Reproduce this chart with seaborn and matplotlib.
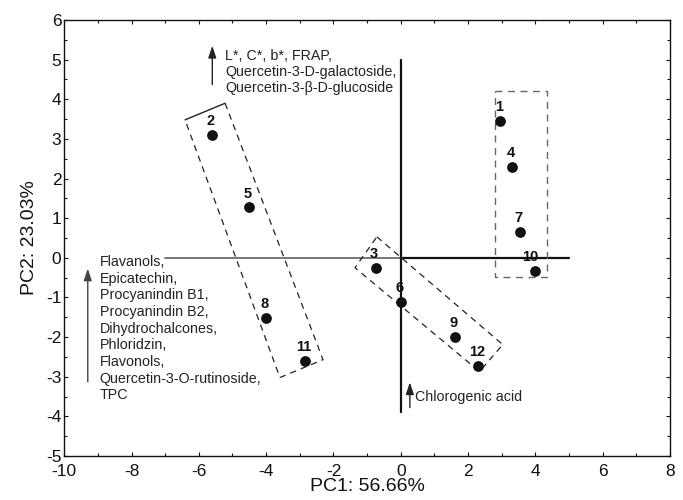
import matplotlib
matplotlib.use("Agg")
import matplotlib.pyplot as plt
import seaborn as sns
import pandas as pd
from matplotlib.ticker import MultipleLocator

# ---- data ----
sample_ids = ["1", "2", "3", "4", "5", "6", "7", "8", "9", "10", "11", "12"]
pc1 = [2.95, -5.6, -0.75, 3.3, -4.5, 0.0, 3.55, -4.0, 1.6, 4.0, -2.85, 2.3]
pc2 = [3.45, 3.1, -0.25, 2.3, 1.27, -1.12, 0.65, -1.52, -2.0, -0.32, -2.6, -2.72]

box_left_x = [-6.41, -5.22, -2.31, -3.59, -6.41]
box_left_y = [3.48, 3.90, -2.57, -3.02, 3.48]
box_mid_x = [-0.71, 3.03, 2.34, -1.36, -0.71]
box_mid_y = [0.53, -2.19, -2.87, -0.25, 0.53]
box_right_x = [2.79, 4.33, 4.33, 2.79, 2.79]
box_right_y = [4.22, 4.22, -0.48, -0.48, 4.22]

top_text = ["L*, C*, b*, FRAP,", "Quercetin-3-D-galactoside,", "Quercetin-3-\u03b2-D-glucoside"]
left_text = ["Flavanols,", "Epicatechin,", "Procyanindin B1,", "Procyanindin B2,",
             "Dihydrochalcones,", "Phloridzin,", "Flavonols,",
             "Quercetin-3-O-rutinoside,", "TPC"]
bottom_text = "Chlorogenic acid"

x_label = "PC1: 56.66%"
y_label = "PC2: 23.03%"

df = pd.DataFrame({"PC1": pc1, "PC2": pc2, "id": sample_ids})

sns.set_theme(style="ticks")
plt.rcParams["font.family"] = ["Liberation Sans", "DejaVu Sans"]
plt.rcParams["axes.unicode_minus"] = False

fig = plt.figure(figsize=(6.83, 5.0), dpi=100)
ax = fig.add_axes([0.094, 0.088, 0.887, 0.872])

# axes cross lines
ax.plot([-7, 0], [0, 0], color="#777777", lw=1.4, zorder=1)
ax.plot([0, 5], [0, 0], color="#111111", lw=1.6, zorder=1)
ax.plot([0, 0], [-3.9, 5.0], color="#111111", lw=1.6, zorder=1)

# group boxes
dash = (0, (5, 4))
ax.plot(box_left_x[:2], box_left_y[:2], color="#222222", lw=1.0)
ax.plot(box_left_x[1:], box_left_y[1:], color="#222222", lw=0.9, ls=dash)
ax.plot(box_mid_x, box_mid_y, color="#222222", lw=0.9, ls=dash)
ax.plot(box_right_x, box_right_y, color="#666666", lw=1.0, ls=dash)

# points
sns.scatterplot(data=df, x="PC1", y="PC2", color="#111111", s=60,
                edgecolor="#111111", linewidth=0, ax=ax, zorder=3, legend=False)

label_dx = {"10": -4}
for xi, yi, lab in zip(pc1, pc2, sample_ids):
    ax.annotate(lab, (xi, yi), xytext=(label_dx.get(lab, -1), 7),
                textcoords="offset points", ha="center", va="baseline",
                fontsize=10.5, fontweight="bold", color="#111111")

# loading arrows and texts
arrow_kw = dict(arrowstyle="-|>,head_length=0.6,head_width=0.2", color="#222222", lw=1.0)
ax.annotate("", xy=(-5.6, 5.42), xytext=(-5.6, 4.3), arrowprops=arrow_kw)
ax.text(-5.22, 5.27, "\n".join(top_text), ha="left", va="top",
        fontsize=10.3, color="#222222", linespacing=1.2)

ax.annotate("", xy=(-9.3, -0.2), xytext=(-9.3, -3.2),
            arrowprops=dict(arrowstyle="-|>,head_length=0.6,head_width=0.2",
                            color="#444444", lw=1.0))
ax.text(-8.95, 0.07, "\n".join(left_text), ha="left", va="top",
        fontsize=10.3, color="#222222", linespacing=1.24)

ax.annotate("", xy=(0.27, -3.07), xytext=(0.27, -3.85), arrowprops=arrow_kw)
ax.text(0.42, -3.52, bottom_text, ha="left", va="center", fontsize=10.3, color="#222222")

# axes formatting
ax.set_xlim(-10, 8)
ax.set_ylim(-5, 6)
ax.xaxis.set_major_locator(MultipleLocator(2))
ax.xaxis.set_minor_locator(MultipleLocator(1))
ax.yaxis.set_major_locator(MultipleLocator(1))
ax.yaxis.set_minor_locator(MultipleLocator(0.5))
ax.tick_params(which="both", direction="in", top=True, right=True,
               labelsize=12.5, colors="#111111", width=0.8)
ax.tick_params(which="major", length=3)
ax.tick_params(axis="x", which="major", pad=6)
ax.tick_params(axis="y", which="major", pad=2)
ax.tick_params(which="minor", length=2)
for sp in ax.spines.values():
    sp.set_visible(True)
    sp.set_color("#111111")
    sp.set_linewidth(1.0)
ax.set_xlabel(x_label, fontsize=14, labelpad=-1, color="#111111")
ax.set_ylabel(y_label, fontsize=14, labelpad=6, color="#111111")

fig.savefig("out.png", dpi=100)
